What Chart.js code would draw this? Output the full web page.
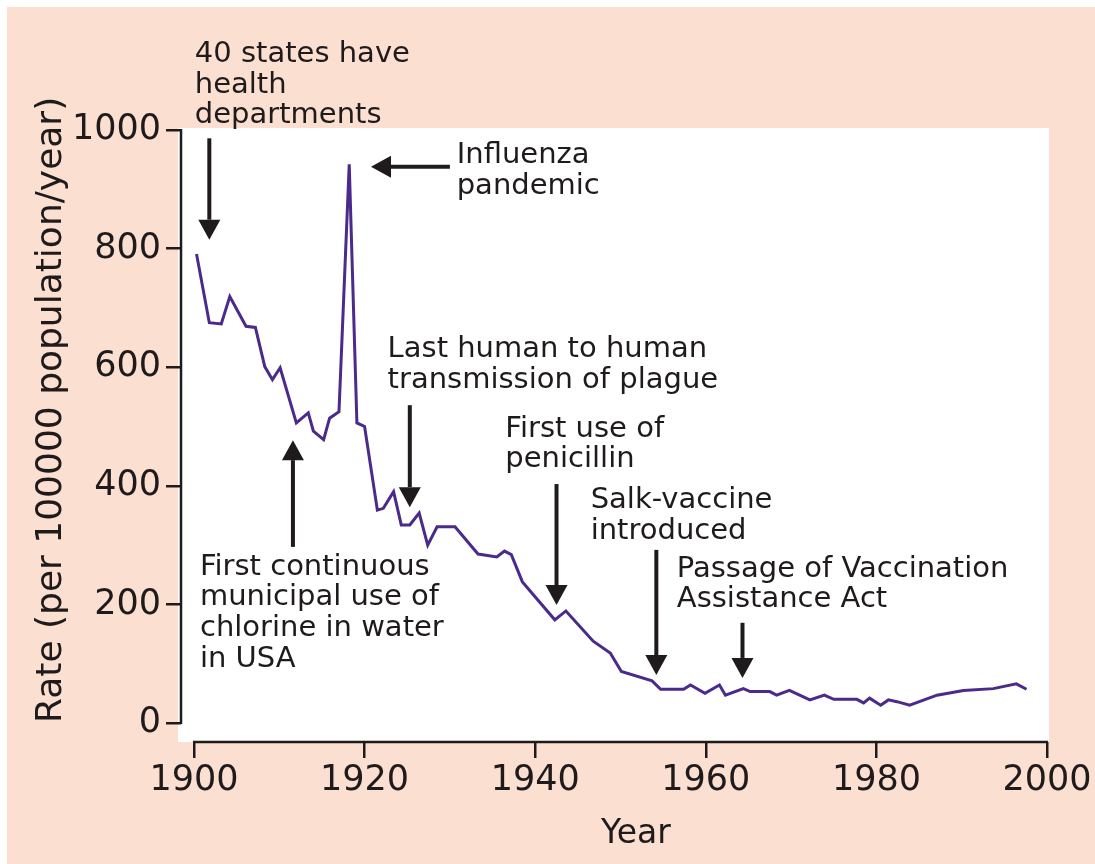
<!DOCTYPE html>
<html>
<head>
    <title>Infectious disease mortality, USA, 1900-1996</title>
    <script src="https://cdn.jsdelivr.net/npm/chart.js"></script>
    <style>
        body { margin: 0; background: #fff; }
        canvas { display: block; }
    </style>
</head>
<body>
<canvas id="rateChart" width="1095" height="864"></canvas>
<script>
    // crude death rate from infectious diseases
    let years = [1900.3, 1901.8, 1903.2, 1904.2, 1906.1, 1907.2, 1908.3, 1909.2, 1910.1, 1912.0,
                 1913.4, 1914.0, 1915.2, 1915.9, 1917.0, 1918.2, 1919.1, 1920.0, 1921.5, 1922.2,
                 1923.4, 1924.3, 1925.3, 1926.4, 1927.4, 1928.5, 1930.6, 1933.3, 1935.5, 1936.4,
                 1937.2, 1938.5, 1942.3, 1943.6, 1946.8, 1948.8, 1950.1, 1953.7, 1954.7, 1957.4,
                 1958.2, 1959.9, 1961.6, 1962.3, 1964.4, 1965.2, 1967.5, 1968.3, 1969.8, 1972.2,
                 1973.9, 1975.0, 1977.7, 1978.5, 1979.2, 1980.5, 1981.4, 1982.4, 1983.9, 1987.1,
                 1990.2, 1993.7, 1996.4, 1997.6];
    let rates = [791, 675, 673, 719, 669, 667, 601, 579, 599, 506,
                 523, 492, 478, 514, 525, 942, 506, 500, 359, 362,
                 390, 334, 334, 354, 300, 331, 331, 285, 280, 290,
                 284, 238, 174, 189, 138, 118, 87, 71, 57, 57,
                 64, 50, 64, 47, 58, 53, 53, 47, 55, 39,
                 47, 40, 40, 34, 42, 30, 39, 36, 30, 47,
                 55, 58, 66, 57];
    let xTicks = [1900, 1920, 1940, 1960, 1980, 2000];
    let yTicks = [0, 200, 400, 600, 800, 1000];

    // events: text lines, text start and arrow tail/tip, all in (year, rate)
    let notes = [
        {lines: ['40 states have', 'health', 'departments'], at: [1900.1, 1114.7], from: [1901.8, 986], to: [1901.8, 815]},
        {lines: ['Influenza', 'pandemic'], at: [1930.8, 944], from: [1930.0, 938], to: [1920.75, 938]},
        {lines: ['Last human to human', 'transmission of plague'], at: [1922.7, 617], from: [1925.3, 536], to: [1925.3, 364]},
        {lines: ['First use of', 'penicillin'], at: [1936.5, 483], from: [1942.5, 403], to: [1942.5, 199]},
        {lines: ['Salk-vaccine', 'introduced'], at: [1946.5, 362], from: [1954.2, 292], to: [1954.2, 81]},
        {lines: ['Passage of Vaccination', 'Assistance Act'], at: [1956.6, 247], from: [1964.3, 169], to: [1964.3, 76]},
        {lines: ['First continuous', 'municipal use of', 'chlorine in water', 'in USA'], at: [1900.7, 250], from: [1911.6, 297], to: [1911.6, 477]}
    ];

    let fontFamily = '"DejaVu Sans", sans-serif';
    let ink = '#1f1b1c';
    let peach = '#fbdfd0';

    function drawArrow(ctx, x1, y1, x2, y2) {
        let ang = Math.atan2(y2 - y1, x2 - x1);
        let head = 20, half = 11;
        let bx = x2 - head * Math.cos(ang), by = y2 - head * Math.sin(ang);
        ctx.beginPath();
        ctx.moveTo(x1, y1);
        ctx.lineTo(bx, by);
        ctx.stroke();
        ctx.beginPath();
        ctx.moveTo(x2, y2);
        ctx.lineTo(bx + half * Math.sin(ang), by - half * Math.cos(ang));
        ctx.lineTo(bx - half * Math.sin(ang), by + half * Math.cos(ang));
        ctx.closePath();
        ctx.fill();
    }

    let backdrop = {
        id: 'backdrop',
        beforeDraw(chart) {
            let ctx = chart.ctx, a = chart.chartArea;
            ctx.save();
            ctx.fillStyle = '#fff';
            ctx.fillRect(0, 0, chart.width, chart.height);
            ctx.fillStyle = peach;
            ctx.fillRect(7, 7, chart.width - 7, chart.height - 7);
            ctx.fillStyle = '#fff';
            ctx.fillRect(a.left - 3, a.top - 2, a.right - a.left + 3, a.bottom - a.top + 2);
            ctx.restore();
        }
    };

    let extras = {
        id: 'extras',
        afterDraw(chart) {
            let ctx = chart.ctx, a = chart.chartArea;
            let xs = chart.scales.x, ys = chart.scales.y;
            ctx.save();
            // axis lines only span the tick range
            ctx.strokeStyle = ink;
            ctx.lineWidth = 2.5;
            ctx.beginPath();
            ctx.moveTo(a.left, ys.getPixelForValue(yTicks[0]) + 1);
            ctx.lineTo(a.left, ys.getPixelForValue(yTicks[yTicks.length - 1]) - 1);
            ctx.moveTo(xs.getPixelForValue(xTicks[0]) - 1, a.bottom);
            ctx.lineTo(xs.getPixelForValue(xTicks[xTicks.length - 1]) + 1, a.bottom);
            ctx.stroke();

            // axis titles
            ctx.fillStyle = ink;
            ctx.font = '33px ' + fontFamily;
            ctx.textAlign = 'center';
            ctx.textBaseline = 'alphabetic';
            ctx.fillText('Year', xs.getPixelForValue(1951.8), a.bottom + 101);
            ctx.save();
            ctx.translate(a.left - 120, ys.getPixelForValue(528));
            ctx.rotate(-Math.PI / 2);
            ctx.font = '36px ' + fontFamily;
            ctx.fillText('Rate (per 100000 population/year)', 0, 0);
            ctx.restore();

            // event notes
            ctx.font = '29px ' + fontFamily;
            ctx.textAlign = 'left';
            ctx.lineWidth = 4;
            notes.forEach(note => {
                let tx = xs.getPixelForValue(note.at[0]);
                let ty = ys.getPixelForValue(note.at[1]);
                note.lines.forEach((line, i) => ctx.fillText(line, tx, ty + i * 30.7));
                drawArrow(ctx,
                    xs.getPixelForValue(note.from[0]), ys.getPixelForValue(note.from[1]),
                    xs.getPixelForValue(note.to[0]), ys.getPixelForValue(note.to[1]));
            });
            ctx.restore();
        }
    };

    Chart.defaults.font.family = fontFamily;
    Chart.defaults.color = ink;

    let ctx = document.getElementById('rateChart').getContext('2d');
    new Chart(ctx, {
        type: 'line',
        data: {
            datasets: [{
                label: 'Rate',
                data: years.map((yr, i) => ({x: yr, y: rates[i]})),
                borderColor: '#4a2a8a',
                borderWidth: 3,
                pointRadius: 0,
                tension: 0,
                fill: false
            }]
        },
        options: {
            responsive: false,
            devicePixelRatio: 1,
            animation: false,
            layout: {padding: {top: 130, right: 46, left: 0, bottom: 0}},
            plugins: {legend: {display: false}, tooltip: {enabled: false}},
            scales: {
                x: {
                    type: 'linear',
                    min: 1898.48,
                    max: 2000.23,
                    afterBuildTicks: scale => { scale.ticks = xTicks.map(v => ({value: v})); },
                    afterFit: scale => { scale.height = 122; },
                    border: {display: false},
                    grid: {drawOnChartArea: false, drawTicks: true, tickLength: 16, color: ink, lineWidth: 2.5},
                    ticks: {font: {size: 35}, padding: 2, maxRotation: 0, callback: v => String(v)}
                },
                y: {
                    min: -32,
                    max: 1000,
                    afterBuildTicks: scale => { scale.ticks = yTicks.map(v => ({value: v})); },
                    afterFit: scale => { scale.width = 181; },
                    border: {display: false},
                    grid: {drawOnChartArea: false, drawTicks: true, tickLength: 15, color: ink, lineWidth: 2.5},
                    ticks: {font: {size: 35}, padding: 5, callback: v => String(v)}
                }
            }
        },
        plugins: [backdrop, extras]
    });
</script>
</body>
</html>
